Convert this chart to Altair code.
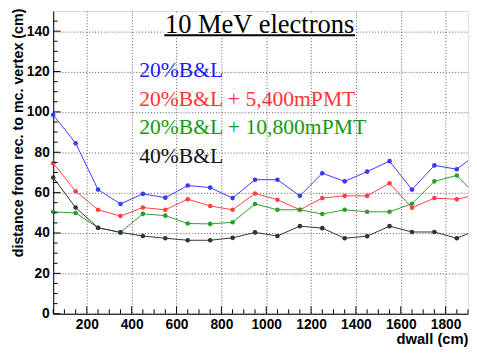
import altair as alt
import pandas as pd

# ---- data ----
dwall = [50, 150, 250, 350, 450, 550, 650, 750, 850, 950, 1050, 1150, 1250,
         1350, 1450, 1550, 1650, 1750, 1850, 1950]
blue = [98.5, 84.5, 61.5, 54.4, 59.4, 57.5, 63.5, 62.5, 57.3, 66.4, 66.4, 58.4,
        69.6, 65.6, 70.4, 75.6, 61.5, 73.5, 71.6, 80.0]
red = [74.6, 60.7, 51.5, 48.4, 52.6, 51.5, 56.7, 53.4, 51.5, 59.6, 56.5, 51.5,
       57.3, 58.4, 58.4, 64.6, 52.5, 57.3, 56.7, 59.3]
green = [50.5, 49.9, 42.6, 40.3, 49.5, 48.6, 44.7, 44.5, 45.3, 54.4, 51.5, 51.5,
         49.4, 51.5, 50.5, 50.5, 54.5, 65.6, 68.5, 57.0]
black = [67.5, 52.6, 42.6, 40.3, 38.5, 37.4, 36.4, 36.4, 37.6, 40.3, 38.5, 43.4,
         42.4, 37.4, 38.4, 43.4, 40.5, 40.5, 37.4, 42.0]

series_names = ["20%B&L", "20%B&L + 5,400mPMT", "20%B&L + 10,800mPMT", "40%B&L"]
series_values = [blue, red, green, black]
line_colors = ["#3a3aff", "#ff4040", "#2aa02a", "#333333"]
marker_colors = ["#0000ff", "#ff0000", "#009900", "#000000"]
text_colors = ["#1a1aff", "#ff3535", "#139a13", "#111111"]

title_text = "10 MeV electrons"
x_title = "dwall (cm)"
y_title = "distance from rec. to mc. vertex (cm)"
x_major = [200, 400, 600, 800, 1000, 1200, 1400, 1600, 1800]
y_major = [0, 20, 40, 60, 80, 100, 120, 140]

rows = []
for name, vals in zip(series_names, series_values):
    for d, v in zip(dwall, vals):
        rows.append({"dwall": d, "dist": v, "series": name})
df = pd.DataFrame(rows)

W, H = 422, 308
xscale = alt.Scale(domain=[50, 1900], nice=False, zero=False)
yscale = alt.Scale(domain=[0, 150], nice=False, zero=True)
color_scale = alt.Scale(domain=series_names, range=line_colors)
mcolor_scale = alt.Scale(domain=series_names, range=marker_colors)

FONT = "Liberation Sans"
SERIF = "Liberation Serif"

xaxis = alt.Axis(values=x_major, format="d", grid=True, gridDash=[1, 2],
                 gridColor="#555", gridWidth=1, tickSize=0, domainColor="black",
                 domainWidth=1, labelFont=FONT, labelFontWeight="bold",
                 labelFontSize=14, labelColor="black", labelPadding=4,
                 labelFlush=False, title=x_title, titleFont=FONT,
                 titleFontWeight="bold", titleFontSize=15, titleColor="black",
                 titleAnchor="end", titleAlign="right", titleBaseline="middle",
                 titleX=W, titleY=25)
yaxis = alt.Axis(values=y_major, format="d", grid=True, gridDash=[1, 2],
                 gridColor="#555", gridWidth=1, tickSize=0, domainColor="black",
                 domainWidth=1, labelFont=FONT, labelFontWeight="bold",
                 labelFontSize=14, labelColor="black", labelPadding=4,
                 labelFlush=False, title=y_title, titleFont=FONT,
                 titleFontWeight="bold", titleFontSize=14.5, titleColor="black",
                 titleAngle=270, titleAlign="right", titleBaseline="middle",
                 titleX=-35.5, titleY=-3)

base = alt.Chart(df)

lines = base.mark_line(strokeWidth=1, clip=True).encode(
    x=alt.X("dwall:Q", scale=xscale, axis=xaxis),
    y=alt.Y("dist:Q", scale=yscale, axis=yaxis),
    color=alt.Color("series:N", scale=color_scale, legend=None),
    detail="series:N",
)
points = base.transform_filter("datum.dwall <= 1900").mark_point(
    filled=True, size=22, opacity=1, shape="circle").encode(
    x=alt.X("dwall:Q", scale=xscale),
    y=alt.Y("dist:Q", scale=yscale),
    color=alt.Color("series:N", scale=mcolor_scale, legend=None),
)

# inward ticks (ROOT style)
ytick_df = pd.DataFrame({"v": list(range(0, 150, 5))})
xtick_df = pd.DataFrame({"v": list(range(50, 1901, 50))})
ymaj = alt.Chart(ytick_df).transform_filter("datum.v % 20 == 0").mark_rule(
    color="black", strokeWidth=1).encode(
    y=alt.Y("v:Q", scale=yscale), x=alt.value(0), x2=alt.value(7.5))
ymin = alt.Chart(ytick_df).transform_filter("datum.v % 20 != 0").mark_rule(
    color="black", strokeWidth=1).encode(
    y=alt.Y("v:Q", scale=yscale), x=alt.value(0), x2=alt.value(4.5))
xmaj = alt.Chart(xtick_df).transform_filter("datum.v % 200 == 0").mark_rule(
    color="black", strokeWidth=1).encode(
    x=alt.X("v:Q", scale=xscale), y=alt.value(H), y2=alt.value(H - 7.5))
xmin = alt.Chart(xtick_df).transform_filter("datum.v % 200 != 0").mark_rule(
    color="black", strokeWidth=1).encode(
    x=alt.X("v:Q", scale=xscale), y=alt.value(H), y2=alt.value(H - 4.5))

# title box
tbox = alt.Chart(pd.DataFrame({"a": [0]})).mark_rect(color="white").encode(
    x=alt.value(112), x2=alt.value(308), y=alt.value(3), y2=alt.value(27))
tline = alt.Chart(pd.DataFrame({"a": [0]})).mark_rule(
    color="black", strokeWidth=2.2).encode(
    x=alt.value(113), x2=alt.value(307), y=alt.value(24.7))
ttext = alt.Chart(pd.DataFrame({"a": [0]})).mark_text(
    font=SERIF, fontSize=27, color="black", align="center",
    baseline="alphabetic").encode(
    x=alt.value(210), y=alt.value(22), text=alt.value(title_text))

legend_layers = []
for i, (name, col) in enumerate(zip(series_names, text_colors)):
    legend_layers.append(
        alt.Chart(pd.DataFrame({"a": [0]})).mark_text(
            font=SERIF, fontSize=22, color=col, align="left",
            baseline="middle").encode(
            x=alt.value(87.5), y=alt.value(60 + i * 29.2),
            text=alt.value(name))
    )

chart = alt.layer(
    lines, points, ymaj, ymin, xmaj, xmin, tbox, tline, ttext, *legend_layers
).properties(
    width=W, height=H,
    autosize=alt.AutoSizeParams(type="none"),
    padding={"left": 46, "top": 0, "right": 1, "bottom": 42},
).configure_view(stroke="#999", strokeWidth=1).configure(background="white")

chart.save("out.html", embed_options={"renderer": "svg", "actions": False})
